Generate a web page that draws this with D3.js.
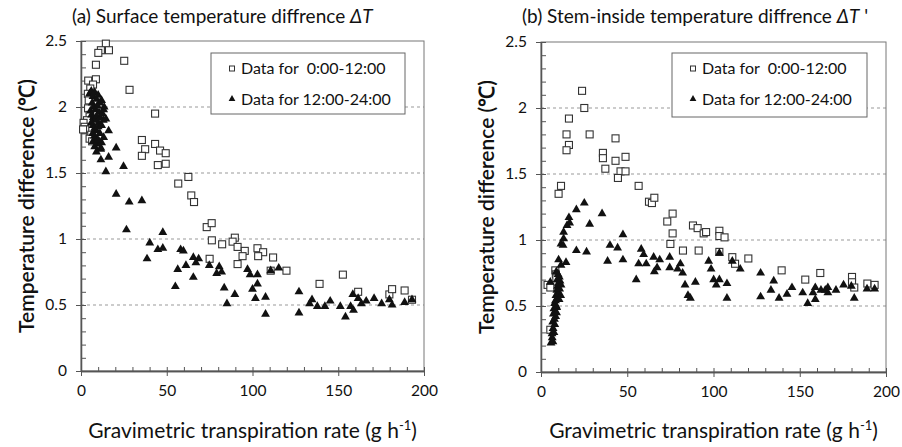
<!DOCTYPE html>
<html>
<head>
<meta charset="utf-8">
<script src="https://cdn.jsdelivr.net/npm/d3@7"></script>
<style>
  body { margin: 0; background: #fff; }
  svg { display: block; font-family: Lato, "Open Sans", sans-serif; }
</style>
</head>
<body>
<svg id="chart" width="902" height="447"></svg>
<script>
// panel (a): surface temperature difference, [transpiration rate, dT]
const surfaceMorning = [
  [14.5, 2.48], [11.6, 2.43], [10.1, 2.41], [16.3, 2.43], [8.7, 2.32], [25.2, 2.35],
  [4.2, 2.20], [8.7, 2.21], [7.0, 2.17], [5.4, 2.14], [4.0, 2.10], [4.5, 2.05],
  [28.3, 2.13], [4.1, 1.99], [5.0, 1.94], [3.5, 1.90], [1.5, 1.88], [2.1, 1.85],
  [2.5, 1.83], [1.2, 1.83], [5.4, 1.78], [6.0, 1.79], [5.0, 1.76], [6.5, 1.74],
  [43.2, 1.95], [35.5, 1.75], [37.4, 1.68], [35.5, 1.63], [43.2, 1.72], [46.1, 1.67],
  [49.4, 1.65], [44.8, 1.56], [49.4, 1.57], [56.7, 1.42], [62.6, 1.47], [64.3, 1.33],
  [65.9, 1.28], [73.3, 1.09], [76.2, 1.12], [76.3, 0.99], [82.3, 0.96], [75.0, 0.85],
  [89.7, 1.01], [88.4, 0.98], [91.3, 0.94], [95.5, 0.91], [94.2, 0.87], [91.3, 0.81],
  [102.9, 0.93], [106.2, 0.90], [103.3, 0.87], [112.0, 0.86], [110.6, 0.76], [119.8, 0.76],
  [139.1, 0.66], [152.7, 0.73], [161.6, 0.60], [179.8, 0.58], [181.4, 0.62], [188.7, 0.61],
  [193.0, 0.54]
];
const surfaceAfternoon = [
  [5.0, 2.10], [6.0, 2.12], [7.0, 2.08], [8.0, 2.11], [9.0, 2.06], [10.0, 2.09],
  [11.0, 2.03], [12.0, 2.05], [6.5, 2.03], [7.5, 2.00], [8.5, 1.98], [9.5, 2.01],
  [10.5, 1.96], [5.5, 1.97], [6.2, 1.94], [7.2, 1.92], [8.2, 1.90], [9.2, 1.93],
  [10.2, 1.88], [11.2, 1.92], [6.0, 1.88], [7.0, 1.86], [8.0, 1.84], [9.0, 1.82],
  [10.0, 1.85], [11.0, 1.80], [6.8, 1.80], [7.8, 1.78], [8.8, 1.76], [12.0, 1.86],
  [12.5, 1.95], [13.5, 2.00], [13.0, 1.90], [9.5, 1.72], [10.5, 1.74], [8.0, 1.70],
  [11.5, 1.68], [12.0, 1.73], [9.0, 1.66], [7.0, 1.74],
  [13.2, 1.98], [14.5, 1.91], [16.1, 1.82], [13.2, 1.77], [9.9, 1.75], [11.6, 1.69],
  [16.1, 1.62], [11.6, 1.60], [20.5, 1.69], [24.8, 1.55], [14.5, 1.51], [20.5, 1.34],
  [28.1, 1.28], [35.5, 1.29], [26.5, 1.07], [47.7, 1.05], [40.1, 0.97], [44.8, 0.92],
  [47.7, 0.93], [38.5, 0.85], [58.1, 0.92], [59.7, 0.91], [65.5, 0.86], [68.6, 0.85],
  [67.0, 0.82], [61.2, 0.80], [56.4, 0.77], [74.8, 0.80], [65.5, 0.71], [55.0, 0.64],
  [80.6, 0.79], [79.1, 0.74], [82.0, 0.75], [83.5, 0.63], [89.7, 0.58], [85.1, 0.51],
  [97.1, 0.77], [98.6, 0.73], [102.9, 0.73], [100.0, 0.62], [101.7, 0.55], [102.9, 0.66],
  [107.6, 0.56], [107.6, 0.43], [110.6, 0.76], [115.3, 0.78], [127.1, 0.60], [127.1, 0.44],
  [134.7, 0.54], [133.3, 0.51], [137.8, 0.49], [142.2, 0.49], [145.3, 0.53], [151.2, 0.49],
  [154.2, 0.41], [157.2, 0.49], [158.9, 0.46], [158.5, 0.58], [161.6, 0.55], [163.5, 0.51],
  [166.3, 0.53], [170.9, 0.55], [175.3, 0.51], [179.8, 0.54], [181.4, 0.50], [188.7, 0.52],
  [193.0, 0.54]
];

// panel (b): stem-inside temperature difference
const stemMorning = [
  [23.8, 2.13], [25.1, 2.00], [16.2, 1.92], [14.8, 1.80], [28.2, 1.80], [16.2, 1.72],
  [14.8, 1.68], [43.2, 1.77], [35.9, 1.66], [35.9, 1.62], [43.2, 1.60], [49.0, 1.63],
  [37.3, 1.54], [46.1, 1.52], [49.0, 1.52], [44.6, 1.47], [56.6, 1.41], [11.6, 1.41],
  [10.2, 1.35], [62.6, 1.29], [64.3, 1.28], [65.7, 1.32], [76.3, 1.20], [73.2, 1.14],
  [76.3, 1.05], [75.0, 0.97], [82.3, 0.92], [88.1, 1.11], [90.8, 1.09], [91.4, 0.92],
  [94.3, 1.05], [95.7, 1.06], [103.4, 1.07], [103.4, 1.03], [106.4, 1.02], [103.4, 0.91],
  [110.9, 0.87], [112.5, 0.82], [120.2, 0.86], [139.5, 0.77], [153.2, 0.70], [161.9, 0.75],
  [180.3, 0.72], [180.3, 0.68], [181.6, 0.64], [189.2, 0.67], [193.4, 0.66],
  [8.3, 0.77], [8.6, 0.74], [8.9, 0.71], [3.8, 0.66], [5.4, 0.64], [5.4, 0.32]
];
const stemAfternoon = [
  [6.5, 0.26], [7.5, 0.30], [7.0, 0.33], [8.0, 0.36], [6.8, 0.38], [7.8, 0.40],
  [8.5, 0.42], [7.2, 0.44], [8.2, 0.46], [7.5, 0.48], [8.8, 0.50], [7.9, 0.52],
  [9.1, 0.49], [8.4, 0.54], [9.5, 0.56], [8.7, 0.58], [9.9, 0.60], [9.2, 0.62],
  [10.3, 0.59], [9.6, 0.65], [10.8, 0.63], [10.1, 0.67], [9.4, 0.70], [10.6, 0.72],
  [11.0, 0.69], [9.9, 0.74], [8.9, 0.76], [11.4, 0.58], [10.5, 0.55], [9.0, 0.45],
  [11.6, 0.66], [5.8, 0.22], [6.9, 0.23], [6.4, 0.29], [5.4, 0.68],
  [25.1, 1.28], [20.5, 1.23], [35.4, 1.20], [16.2, 1.17], [15.1, 1.11], [13.1, 1.06],
  [16.6, 1.13], [28.2, 1.12], [13.1, 1.01], [11.6, 0.97], [12.8, 0.96], [20.5, 0.92],
  [26.4, 0.91], [47.5, 1.04], [40.0, 0.96], [44.4, 0.94], [47.5, 0.85], [38.6, 0.84],
  [58.1, 0.93], [59.5, 0.89], [56.6, 0.82], [61.0, 0.82], [65.3, 0.87], [68.8, 0.85],
  [74.6, 0.87], [74.6, 0.79], [67.3, 0.79], [65.7, 0.76], [55.2, 0.70], [79.2, 0.78],
  [80.8, 0.82], [82.1, 0.75], [83.5, 0.66], [85.2, 0.58], [89.5, 0.68], [14.5, 0.83],
  [10.2, 0.85], [11.6, 0.81], [86.6, 0.56],
  [97.2, 0.84], [98.6, 0.78], [103.4, 0.90], [100.1, 0.70], [103.4, 0.70], [101.6, 0.66],
  [107.8, 0.67], [107.8, 0.56], [110.9, 0.84], [115.5, 0.78], [127.3, 0.75], [127.3, 0.57],
  [134.9, 0.69], [133.3, 0.62], [138.0, 0.56], [142.6, 0.59], [145.5, 0.64], [151.7, 0.60],
  [154.6, 0.52], [159.0, 0.55], [157.7, 0.60], [159.0, 0.64], [162.3, 0.62], [164.8, 0.62],
  [166.3, 0.64], [166.3, 0.60], [171.0, 0.62], [175.4, 0.66], [179.9, 0.65], [181.6, 0.56],
  [189.0, 0.63], [193.4, 0.63]
];

const xTicks = [0, 50, 100, 150, 200];
const yTicks = [0, 0.5, 1, 1.5, 2, 2.5];
const yTickLabels = ["0", "0.5", "1", "1.5", "2", "2.5"];
const legendLabels = ["Data for  0:00-12:00", "Data for 12:00-24:00"];
const axisColor = "#555";

const svg = d3.select("#chart");

function panel(opt) {
  const x = d3.scaleLinear().domain([0, 200]).range([opt.left, opt.right]);
  const y = d3.scaleLinear().domain([0, 2.5]).range([opt.bottom, opt.top]);
  const g = svg.append("g");

  // dashed grid lines
  g.selectAll("line.grid")
    .data([0.5, 1, 1.5, 2])
    .enter()
    .append("line")
    .attr("x1", opt.left).attr("x2", opt.right)
    .attr("y1", d => y(d)).attr("y2", d => y(d))
    .attr("stroke", "#999")
    .attr("stroke-dasharray", "3,3");

  // frame
  g.append("rect")
    .attr("x", opt.left).attr("y", opt.top)
    .attr("width", opt.right - opt.left)
    .attr("height", opt.bottom - opt.top)
    .attr("fill", "none")
    .attr("stroke", "#777");

  // minor ticks inside, major ticks crossing the axis
  const xMinor = g.append("g")
    .attr("transform", `translate(0,${opt.bottom})`)
    .call(d3.axisBottom(x).tickValues(d3.range(0, 201, 10)).tickSize(-4).tickSizeOuter(0).tickFormat(""));
  const xMajor = g.append("g")
    .attr("transform", `translate(0,${opt.bottom})`)
    .call(d3.axisBottom(x).tickValues(xTicks).tickSize(5).tickSizeOuter(0).tickPadding(9));
  const yMinor = g.append("g")
    .attr("transform", `translate(${opt.left},0)`)
    .call(d3.axisLeft(y).tickValues(d3.range(0, 26).map(d => d / 10)).tickSize(-5).tickSizeOuter(0).tickFormat(""));
  const yMajor = g.append("g")
    .attr("transform", `translate(${opt.left},0)`)
    .call(d3.axisLeft(y).tickValues(yTicks).tickSize(5).tickSizeOuter(0).tickPadding(9)
      .tickFormat((d, i) => yTickLabels[i]));

  [xMinor, xMajor, yMinor, yMajor].forEach(a => {
    a.select(".domain").attr("stroke", axisColor).attr("stroke-width", 1.3);
    a.selectAll(".tick line").attr("stroke", axisColor);
    a.selectAll("text").attr("fill", "#111").attr("font-size", 15.5).attr("font-family", "Lato");
  });

  // points
  g.selectAll("path.pm")
    .data(opt.pm)
    .enter()
    .append("rect")
    .attr("x", d => x(d[0]) - 3.5)
    .attr("y", d => y(d[1]) - 3.5)
    .attr("width", 7).attr("height", 7)
    .attr("fill", "#fff")
    .attr("stroke", "#333")
    .attr("stroke-width", 1.1);

  const tri = d3.symbol().type(d3.symbolTriangle).size(34);
  g.selectAll("path.am")
    .data(opt.am)
    .enter()
    .append("path")
    .attr("d", tri)
    .attr("transform", d => `translate(${x(d[0])},${y(d[1])})`)
    .attr("fill", "#111");

  // legend
  const lg = g.append("g");
  lg.append("rect")
    .attr("x", opt.legend[0]).attr("y", opt.legend[1])
    .attr("width", opt.legend[2]).attr("height", opt.legend[3])
    .attr("fill", "#fff").attr("stroke", "#666");
  lg.append("rect")
    .attr("x", opt.legend[0] + opt.legendMark - 2.5).attr("y", opt.legend[1] + 13)
    .attr("width", 5).attr("height", 5)
    .attr("fill", "#fff").attr("stroke", "#333");
  lg.append("path")
    .attr("d", d3.symbol().type(d3.symbolTriangle).size(20))
    .attr("transform", `translate(${opt.legend[0] + opt.legendMark},${opt.legend[1] + 46})`)
    .attr("fill", "#111");
  lg.selectAll("text")
    .data(legendLabels)
    .enter()
    .append("text")
    .attr("x", opt.legend[0] + opt.legendMark + 9)
    .attr("y", (d, i) => opt.legend[1] + 21 + i * 31)
    .attr("font-size", 16)
    .style("white-space", "pre")
    .attr("fill", "#111")
    .text(d => d);

  // titles
  const t = g.append("text")
    .attr("x", opt.titleX).attr("y", 23)
    .attr("font-size", 19)
    .attr("fill", "#111");
  t.append("tspan").text(opt.title);
  t.append("tspan").attr("font-style", "italic").text("ΔT");
  if (opt.prime) t.append("tspan").text(" '");

  g.append("text")
    .attr("x", (opt.left + opt.right) / 2).attr("y", 438)
    .attr("text-anchor", "middle")
    .attr("font-size", 21)
    .attr("fill", "#111")
    .text("Gravimetric transpiration rate (g h")
    .append("tspan").attr("dy", -8).attr("font-size", 13).text("-1")
    .select(function () { return this.parentNode; })
    .append("tspan").attr("dy", 8).text(")");

  g.append("text")
    .attr("transform", `translate(${opt.left - 47},${(opt.top + opt.bottom) / 2}) rotate(-90)`)
    .attr("text-anchor", "middle")
    .attr("font-size", 21)
    .attr("font-weight", 600)
    .attr("fill", "#111")
    .text("Temperature difference (℃)");
}

panel({
  left: 81, right: 424, top: 41, bottom: 371,
  pm: surfaceMorning, am: surfaceAfternoon,
  legend: [211, 53, 194, 61], legendMark: 21,
  titleX: 72, title: "(a) Surface temperature diffrence ", prime: false
});
panel({
  left: 541, right: 886, top: 42, bottom: 372,
  pm: stemMorning, am: stemAfternoon,
  legend: [672, 53, 195, 64], legendMark: 21,
  titleX: 522, title: "(b) Stem-inside temperature diffrence ", prime: true
});
</script>
</body>
</html>
